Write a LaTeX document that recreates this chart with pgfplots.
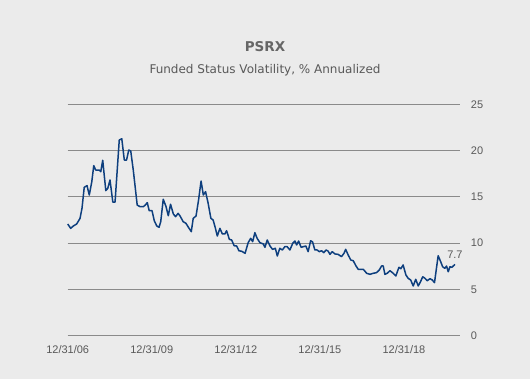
\documentclass[border=0pt]{standalone}
\usepackage{pgfplots}
\pgfplotsset{compat=1.18}
\usepackage{fontspec}
\setmainfont{DejaVu Sans}
\newfontfamily\tickfont{Liberation Sans}
\definecolor{bg}{HTML}{EBEBEB}
\definecolor{txt}{HTML}{595959}
\definecolor{ttl}{HTML}{666666}
\definecolor{grd}{HTML}{8A8A8A}
\definecolor{ln}{HTML}{0E3F7E}
\begin{document}
\begin{tikzpicture}[x=1pt,y=1pt]
\fill[bg] (-67.7,-43.3) rectangle (462.3,335.7);
\useasboundingbox (-67.7,-43.3) rectangle (462.3,335.7);
\node[font=\bfseries\fontsize{13.5}{15}\selectfont, text=ttl] at (197.3,288.7) {PSRX};
\node[font=\fontsize{12}{14}\selectfont, text=txt] at (197.3,265.7) {Funded Status Volatility, \% Annualized};
\begin{axis}[
  at={(0,0)}, anchor=south west,
  scale only axis, width=392.3pt, height=231.4pt,
  xmin=0, xmax=14, ymin=0, ymax=25,
  axis line style={draw=none},
  major tick length=0pt,
  xtick={0,3,6,9,12},
  xticklabels={12/31/06,12/31/09,12/31/12,12/31/15,12/31/18},
  ytick={0,5,10,15,20,25},
  yticklabel pos=right,
  ymajorgrids,
  grid style={grd, line width=0.9pt},
  /pgf/number format/assume math mode=true,
  tick label style={font=\tickfont\fontsize{11}{13}\selectfont, text=txt},
  yticklabel style={anchor=west, inner sep=0pt, xshift=10.7pt},
  xticklabel style={anchor=north, inner sep=0pt, yshift=-9.5pt},
  clip=false,
]
\addplot[ln, line width=1.5pt, line join=round] coordinates {
(0,12.07)(0.107,11.60)(0.20,11.85)(0.32,12.07)(0.44,12.68)(0.51,13.76)(0.59,16.03)(0.69,16.21)(0.77,15.20)(0.86,16.64)
(0.93,18.37)(1.00,17.90)(1.12,17.90)(1.18,17.72)(1.25,18.95)(1.36,15.67)(1.43,15.92)(1.51,16.82)(1.61,14.44)(1.69,14.44)
(1.84,21.14)(1.93,21.28)(2.02,18.98)(2.10,18.98)(2.18,20.06)(2.25,19.95)(2.34,17.90)(2.48,14.12)(2.58,13.94)(2.70,13.94)
(2.77,14.12)(2.84,14.37)(2.91,13.50)(3.01,13.50)(3.09,12.42)(3.18,11.85)(3.26,11.71)(3.32,12.32)(3.41,14.74)(3.51,13.94)
(3.59,12.96)(3.67,14.20)(3.77,13.15)(3.85,12.86)(3.94,13.22)(4.01,12.93)(4.12,12.32)(4.22,12.14)(4.33,11.60)(4.41,11.24)
(4.48,12.68)(4.58,12.93)(4.67,14.66)(4.76,16.71)(4.84,15.20)(4.92,15.56)(5.01,14.34)(5.11,12.68)(5.19,12.50)(5.26,11.74)
(5.34,10.77)(5.43,11.60)(5.52,10.99)(5.61,10.99)(5.67,11.34)(5.77,10.41)(5.85,10.34)(5.94,9.72)(6.03,9.69)(6.11,9.18)
(6.21,9.12)(6.33,8.90)(6.44,10.05)(6.53,10.52)(6.60,10.16)(6.68,11.13)(6.76,10.52)(6.86,10.05)(6.98,9.91)(7.04,9.55)
(7.12,10.34)(7.22,9.69)(7.31,9.33)(7.41,9.44)(7.48,8.61)(7.57,9.44)(7.66,9.26)(7.75,9.62)(7.83,9.62)(7.93,9.26)
(8.03,9.98)(8.11,10.23)(8.17,9.80)(8.24,10.23)(8.33,9.55)(8.41,9.62)(8.50,9.69)(8.58,9.08)(8.67,10.26)(8.74,10.12)
(8.82,9.26)(8.90,9.26)(8.98,9.08)(9.06,9.18)(9.14,8.97)(9.22,9.26)(9.29,9.15)(9.36,8.79)(9.44,9.08)(9.54,8.83)
(9.65,8.79)(9.77,8.54)(9.86,8.90)(9.92,9.33)(10.01,8.72)(10.10,8.18)(10.19,8.10)(10.29,7.53)(10.37,7.17)(10.55,7.17)
(10.67,6.74)(10.79,6.63)(10.90,6.74)(11.02,6.81)(11.12,7.10)(11.20,7.53)(11.26,7.53)(11.32,6.63)(11.40,6.74)(11.50,7.02)
(11.59,6.81)(11.71,6.45)(11.82,7.39)(11.89,7.24)(11.97,7.64)(12.07,6.56)(12.15,6.20)(12.24,6.02)(12.33,5.37)(12.42,6.09)
(12.51,5.37)(12.59,5.83)(12.67,6.37)(12.75,6.20)(12.83,5.94)(12.93,6.16)(13.01,6.02)(13.09,5.73)(13.22,8.64)(13.31,8.00)
(13.38,7.45)(13.46,7.28)(13.52,7.53)(13.58,6.91)(13.64,7.45)(13.71,7.39)(13.76,7.53)(13.82,7.70)
};
\node[font=\tickfont\fontsize{11}{13}\selectfont, text=txt] at (axis cs:13.82,7.7) [yshift=10pt] {7.7};
\end{axis}
\end{tikzpicture}
\end{document}
